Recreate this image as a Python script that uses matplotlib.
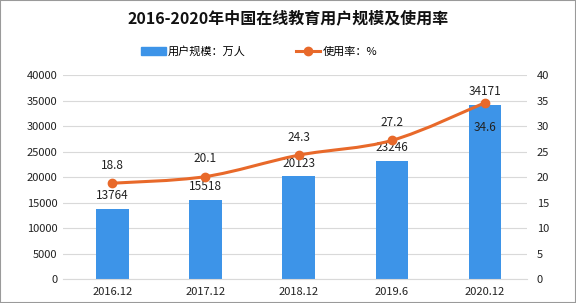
import matplotlib.pyplot as plt
from matplotlib.path import Path
from matplotlib.patches import PathPatch, Rectangle
from matplotlib.lines import Line2D
import numpy as np

plt.rcParams['font.family'] = ['Noto Sans CJK SC', 'DejaVu Sans']

# data
periods = ['2016.12', '2017.12', '2018.12', '2019.6', '2020.12']
users = [13764, 15518, 20123, 23246, 34171]      # 万人
usage_rate = [18.8, 20.1, 24.3, 27.2, 34.6]      # %

bar_color = '#3d94e8'
line_color = '#e8692a'

fig = plt.figure(figsize=(5.76, 3.03), dpi=100)
ax = fig.add_axes([0.109, 0.079, 0.806, 0.673])
ax2 = ax.twinx()

x = np.arange(len(periods))
ax.bar(x, users, width=0.35, color=bar_color, zorder=2)
ax.set_ylim(0, 40000)
ax.set_yticks(range(0, 40001, 5000))
ax.set_xlim(-0.53, len(periods) - 0.55)
ax.set_xticks(x)
ax.set_xticklabels(periods)
ax.grid(axis='y', color='#d9d9d9', linewidth=0.8, zorder=0)
ax.set_axisbelow(True)

ax2.set_ylim(0, 40)
ax2.set_yticks(range(0, 41, 5))

for a in (ax, ax2):
    for s in a.spines.values():
        s.set_visible(False)
    a.tick_params(length=0, labelsize=8, colors='#222222')
ax.spines['bottom'].set_visible(True)
ax.spines['bottom'].set_color('#d9d9d9')
ax.tick_params(axis='y', pad=4)
ax.tick_params(axis='x', pad=6)
ax2.tick_params(axis='y', pad=7)

# smooth line through the points (Catmull-Rom as cubic bezier)
pts = np.column_stack([x, usage_rate])
verts = [tuple(pts[0])]
codes = [Path.MOVETO]
for i in range(len(pts) - 1):
    p0 = pts[max(i - 1, 0)]
    p1 = pts[i]
    p2 = pts[i + 1]
    p3 = pts[min(i + 2, len(pts) - 1)]
    c1 = p1 + (p2 - p0) / 6
    c2 = p2 - (p3 - p1) / 6
    verts += [tuple(c1), tuple(c2), tuple(p2)]
    codes += [Path.CURVE4] * 3
ax2.add_patch(PathPatch(Path(verts, codes), facecolor='none', edgecolor=line_color,
                        linewidth=2.2, zorder=3))
ax2.plot(x, usage_rate, 'o', color=line_color, markersize=6, zorder=4)

# labels
last = len(periods) - 1
for i, (u, r) in enumerate(zip(users, usage_rate)):
    ax.annotate(f'{u}', (i, u), xytext=(0, 5), textcoords='offset points',
                ha='center', va='bottom', fontsize=8.5, color='#222222', zorder=5)
    if i < last:
        ax2.annotate(f'{r}', (i, r), xytext=(0, 8), textcoords='offset points',
                     ha='center', va='bottom', fontsize=8.5, color='#222222')
    else:
        ax2.annotate(f'{r}', (i, r), xytext=(0, -13), textcoords='offset points',
                     ha='center', va='top', fontsize=8.5, color='#222222')

fig.suptitle('2016-2020年中国在线教育用户规模及使用率', y=0.965, fontsize=11.5,
             fontweight='bold', color='#111111')

handles = [Rectangle((0, 0), 1, 1, color=bar_color),
           Line2D([0], [0], color=line_color, linewidth=2.2, marker='o', markersize=6)]
fig.legend(handles, ['用户规模：万人', '使用率：%'], loc='center', bbox_to_anchor=(0.45, 0.83),
           ncol=2, frameon=False, fontsize=8, handlelength=2.2, columnspacing=4.5,
           handletextpad=0.2)

fig.patches.append(Rectangle((0, 0), 1, 1, transform=fig.transFigure, fill=False,
                             edgecolor='#9a9a9a', linewidth=1.5))

fig.savefig('out.png', dpi=100)
